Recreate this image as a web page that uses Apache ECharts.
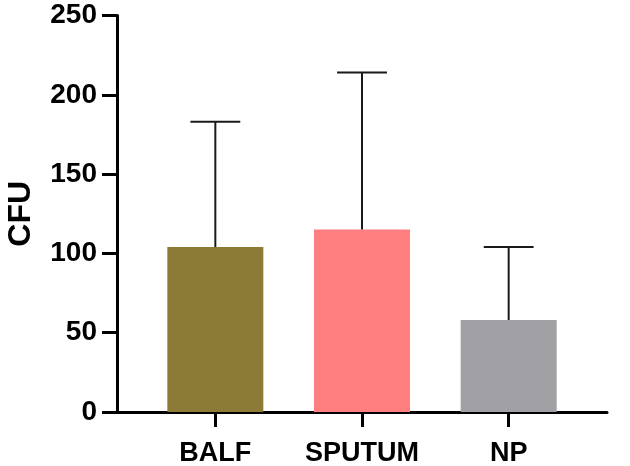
<!DOCTYPE html>
<html>
<head>
<meta charset="utf-8">
<script src="https://cdn.jsdelivr.net/npm/echarts@6/dist/echarts.min.js"></script>
<style>html,body{margin:0;padding:0;background:#fff;}#chart{width:630px;height:466px;}</style>
</head>
<body>
<div id="chart"></div>
<script>
const categories = ['BALF', 'SPUTUM', 'NP'];
const means = [104, 115, 58];
const sds = [79, 99, 46];
const barColors = ['#8B7B37', '#FF7F80', '#A1A0A4'];
const yTicks = [0, 50, 100, 150, 200, 250];

const FONT = '"Liberation Sans", Arial, Helvetica, sans-serif';
const chart = echarts.init(document.getElementById('chart'), null, {renderer: 'canvas'});

const option = {
  backgroundColor: '#fff',
  animation: false,
  grid: [
    {left: 117, right: 23, top: 15.5, bottom: 54, containLabel: false, outerBoundsMode: 'none'},
    {left: 142, right: 48, top: 15.5, bottom: 54, containLabel: false, outerBoundsMode: 'none'}
  ],
  xAxis: [
    {gridIndex: 0, type: 'value', min: 0, max: 1,
     axisLine: {show: true, onZero: false, lineStyle: {color: '#000', width: 3}},
     axisTick: {show: false}, axisLabel: {show: false}, splitLine: {show: false}},
    {gridIndex: 1, type: 'category', data: categories,
     axisLine: {show: false},
     axisTick: {show: true, alignWithLabel: true, length: 15, lineStyle: {color: '#000', width: 3}},
     axisLabel: {color: '#000', fontFamily: FONT, fontWeight: 'bold', fontSize: 27, margin: 28, interval: 0},
     splitLine: {show: false}}
  ],
  yAxis: [
    {gridIndex: 0, type: 'value', min: yTicks[0], max: yTicks[yTicks.length - 1], interval: 50,
     name: 'CFU', nameLocation: 'middle', nameGap: 80, nameRotate: 90,
     nameTextStyle: {color: '#000', fontFamily: FONT, fontWeight: 'bold', fontSize: 32},
     axisLine: {show: true, onZero: false, lineStyle: {color: '#000', width: 3}},
     axisTick: {show: true, length: 15, lineStyle: {color: '#000', width: 3}},
     axisLabel: {color: '#000', fontFamily: FONT, fontWeight: 'bold', fontSize: 28, margin: 20},
     splitLine: {show: false}},
    {gridIndex: 1, type: 'value', min: 0, max: 250, show: false}
  ],
  series: [
    {
      type: 'bar', xAxisIndex: 1, yAxisIndex: 1, barWidth: 96,
      data: means.map((v, i) => ({value: v, itemStyle: {color: barColors[i]}})),
      z: 2
    },
    {
      type: 'custom', xAxisIndex: 1, yAxisIndex: 1, z: 3,
      data: means.map((v, i) => [i, v, v + sds[i]]),
      renderItem: function (params, api) {
        const base = api.coord([api.value(0), api.value(1)]);
        const top = api.coord([api.value(0), api.value(2)]);
        const half = api.size([1, 0])[0] * 0.17;
        const style = {stroke: '#1a1a1a', lineWidth: 2};
        return {
          type: 'group',
          children: [
            {type: 'line', shape: {x1: base[0], y1: base[1], x2: top[0], y2: top[1]}, style: style},
            {type: 'line', shape: {x1: top[0] - half, y1: top[1], x2: top[0] + half, y2: top[1]}, style: style}
          ]
        };
      }
    }
  ]
};
chart.setOption(option);
</script>
</body>
</html>
